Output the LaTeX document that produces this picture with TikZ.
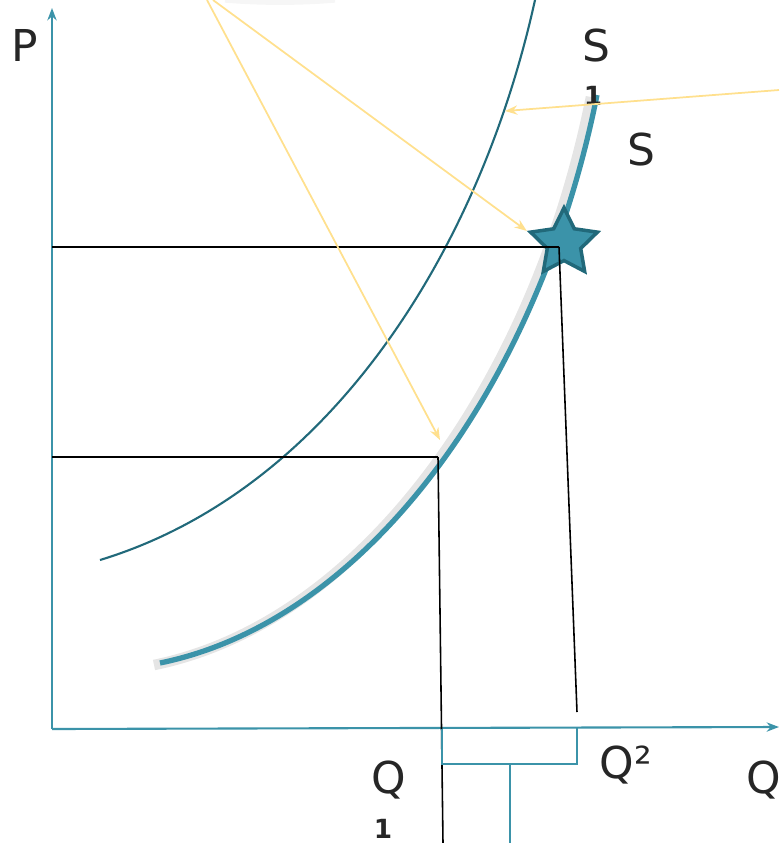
\documentclass[tikz,border=0pt]{standalone}
\usepackage{fontspec}
\setmainfont{DejaVu Sans}
\usetikzlibrary{arrows.meta, positioning, shapes.geometric}
\definecolor{supteal}{HTML}{3B93A9}
\definecolor{supdark}{HTML}{21697A}
\definecolor{hintyellow}{HTML}{FFE08E}

\begin{document}
\begin{tikzpicture}[x=0.02cm, y=-0.02cm,
    axis/.style={draw=supteal, line width=1.2pt, -{Stealth[length=7pt]}},
    guide/.style={draw=black, line width=0.9pt},
    hint/.style={draw=hintyellow, line width=1pt, -{Stealth[length=7pt]}},
    lbl/.style={font=\fontsize{25}{25}\selectfont, text=black!85, inner sep=0pt},
    sublbl/.style={font=\fontsize{15}{15}\selectfont\bfseries, text=black!85, inner sep=0pt}]
    \useasboundingbox (0,0) rectangle (779,843);

    % faint shadow at top
    \draw[gray!7, line width=3pt] (225,0) .. controls (260,3) and (300,3) .. (335,0);

    % axes
    \coordinate (O) at (52,729);
    \coordinate (ptop) at (52,8);
    \coordinate (qend) at (779,727);
    \draw[axis] (O) -- (ptop);
    \draw[axis] (O) -- (qend);
    \node[lbl] (plbl) at (25,45) {P};
    \node[lbl, anchor=west] (qlbl) at (746,780) {Q};

    % supply curves
    \draw[supdark, line width=1.2pt] (100,560) .. controls (330,490) and (480,250) .. (535,0);
    \draw[gray!20, line width=6pt] (154,665) .. controls (364,622) and (534,382) .. (591,97);
    \draw[supteal, line width=3pt] (160,663) .. controls (370,620) and (540,380) .. (597,95);
    \node[lbl] (s1lbl) at (596,46) {S};
    \node[sublbl] (s1sub) at (593,96) {1};
    \node[lbl] (slbl) at (641,150) {S};

    % equilibrium points
    \coordinate (lowpt) at (438,457);
    \node[star, star points=5, star point ratio=2.0, minimum size=40pt, inner sep=0pt,
          fill=supteal, draw=supdark, line width=2pt] (eq) at (564,243) {};
    \coordinate (hipt) at (559,247);

    % guide lines
    \coordinate (p1) at (52,457);
    \coordinate (p2) at (52,247);
    \coordinate (q1bot) at (443,843);
    \coordinate (q2bot) at (577,712);
    \draw[guide] (p2) -- (hipt);
    \draw[guide] (p1) -- (lowpt);
    \draw[guide] (lowpt) -- (q1bot);
    \draw[guide] (hipt) -- (q2bot);

    % bracket under the axis
    \coordinate (bl) at (442,729);
    \coordinate (br) at (577,728);
    \coordinate (bstem) at (510,764);
    \coordinate (bbot) at (510,843);
    \draw[supteal, line width=1.2pt] (bl) -- (442,764) -- (577,764) -- (br);
    \draw[supteal, line width=1.2pt] (bstem) -- (bbot);
    \node[lbl] (q1lbl) at (389,780) {Q};
    \node[sublbl] (q1sub) at (383,829) {1};
    \node[lbl] (q2lbl) at (626,765) {Q²};

    % hint arrows
    \coordinate (h1) at (207,0);
    \coordinate (h2) at (213,0);
    \coordinate (h3) at (779,90);
    \draw[hint] (h1) -- (440,440);
    \draw[hint] (h2) -- (eq.outer point 2);
    \draw[hint] (h3) -- (505,111);
\end{tikzpicture}
\end{document}
